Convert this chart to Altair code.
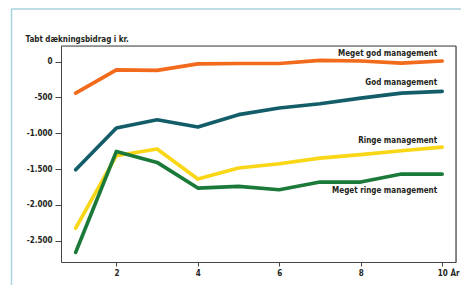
import altair as alt
import pandas as pd

years = [1, 2, 3, 4, 5, 6, 7, 8, 9, 10]
meget_god = [-440, -115, -120, -30, -25, -25, 20, 10, -20, 10]
god = [-1510, -927, -811, -913, -740, -647, -587, -508, -438, -415]
ringe = [-2326, -1314, -1220, -1640, -1486, -1426, -1347, -1300, -1245, -1193]
meget_ringe = [-2666, -1254, -1408, -1766, -1743, -1790, -1682, -1682, -1570, -1570]

series_names = ["Meget god management", "God management", "Ringe management", "Meget ringe management"]
series_values = [meget_god, god, ringe, meget_ringe]
colors = ["#f26a1b", "#135d68", "#f9d616", "#1b7a3a"]
y_ticks = [0, -500, -1000, -1500, -2000, -2500]
x_ticks = [2, 4, 6, 8, 10]

rows = []
for name, vals in zip(series_names, series_values):
    for yr, v in zip(years, vals):
        rows.append({"year": yr, "value": v, "series": name})
df = pd.DataFrame(rows)

FONT = "DejaVu Sans Condensed"
FS = 8
TXT = "#231f20"
W, H = 395, 216

xscale = alt.Scale(domain=[0.64, 10.34], nice=False, zero=False)
yscale = alt.Scale(domain=[-2800, 220], nice=False, zero=False)

lines = alt.Chart(df).mark_line(strokeWidth=3.7, strokeCap="round", strokeJoin="round").encode(
    x=alt.X("year:Q", scale=xscale,
            axis=alt.Axis(values=x_ticks, title="År", titleX=389, titleY=11, titleAlign="left",
                          titleBaseline="middle", titleFont=FONT, titleFontSize=FS, titleFontWeight="bold",
                          titleColor=TXT, labelFont=FONT, labelFontSize=FS, labelFontWeight="bold",
                          labelColor=TXT, tickSize=4, labelPadding=3, grid=False,
                          domainColor="#444", tickColor="#444", labelFlush=False)),
    y=alt.Y("value:Q", scale=yscale,
            axis=alt.Axis(values=y_ticks, title="Tabt dækningsbidrag i kr.", titleAngle=0,
                          titleX=-36, titleY=-5, titleAlign="left", titleBaseline="alphabetic",
                          titleFont=FONT, titleFontSize=FS, titleFontWeight="bold", titleColor=TXT,
                          labelExpr="replace(replace(format(datum.value, ','), ',', '.'), '\u2212', '-')",
                          labelFont=FONT, labelFontSize=FS, labelFontWeight="bold", labelColor=TXT,
                          tickSize=6, labelPadding=3, grid=False, domainColor="#444", tickColor="#444")),
    color=alt.Color("series:N", scale=alt.Scale(domain=series_names, range=colors), legend=None),
    detail="series:N",
)

last = df[df["year"] == years[-1]]
label_dy = [-7, -8, -6, 17]
label_layers = []
for name, dy in zip(series_names, label_dy):
    label_layers.append(
        alt.Chart(last[last["series"] == name]).mark_text(
            align="right", baseline="middle", dx=-5, dy=dy, font=FONT, fontSize=FS,
            fontWeight="bold", color=TXT
        ).encode(x=alt.X("year:Q", scale=xscale), y=alt.Y("value:Q", scale=yscale), text="series:N")
    )

one = pd.DataFrame({"a": [0]})
frame_left = alt.Chart(one).mark_rule(color="#a9d3de", strokeWidth=1.5).encode(
    x=alt.value(-49.5), y=alt.value(-37), y2=alt.value(245))
frame_top = alt.Chart(one).mark_rule(color="#a9d3de", strokeWidth=1.5).encode(
    x=alt.value(-49.5), x2=alt.value(420), y=alt.value(-37))
box_top = alt.Chart(one).mark_rule(color="#444", strokeWidth=1.2).encode(
    x=alt.value(0), x2=alt.value(W), y=alt.value(0))
box_right = alt.Chart(one).mark_rule(color="#444", strokeWidth=1.2).encode(
    x=alt.value(W), y=alt.value(0), y2=alt.value(H))

chart = alt.layer(frame_left, frame_top, box_top, box_right, lines, *label_layers).properties(
    width=W, height=H,
    autosize=alt.AutoSizeParams(type="none"),
    padding={"left": 53, "top": 38, "right": 5, "bottom": 23},
).configure_view(stroke="#444", strokeWidth=1).configure(background="white")

chart.save("out.html", embed_options={"renderer": "svg", "actions": False})
